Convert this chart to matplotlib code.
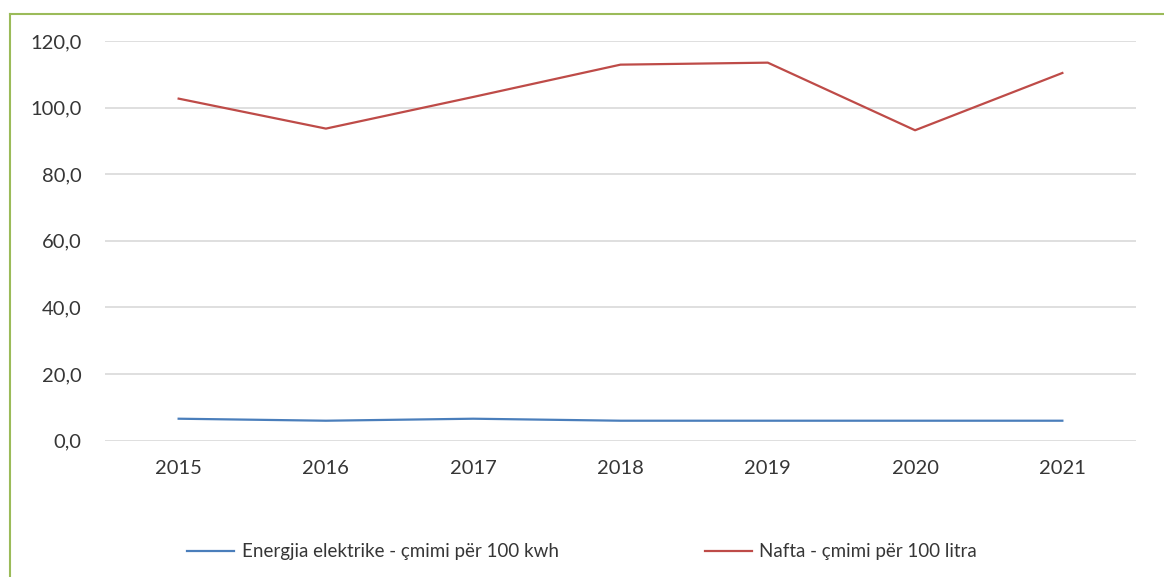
import matplotlib.pyplot as plt
from matplotlib.lines import Line2D
from matplotlib.ticker import FuncFormatter

plt.rcParams["font.family"] = ["Lato", "DejaVu Sans"]

years = ["2015", "2016", "2017", "2018", "2019", "2020", "2021"]
energji = [6.6, 6.0, 6.6, 6.0, 6.0, 6.0, 6.0]
nafta = [102.7, 93.7, 103.2, 112.9, 113.5, 93.2, 110.4]
labels = ["Energjia elektrike - çmimi për 100 kwh", "Nafta - çmimi për 100 litra"]

text_col = "#363636"

fig = plt.figure(figsize=(11.64, 5.77), dpi=100)
ax = fig.add_axes([105 / 1164, 1 - 440.7 / 577, (1136 - 105) / 1164, (440.7 - 41) / 577])

x = range(len(years))
ax.plot(x, energji, color="#4A7EBB", lw=1.6, label=labels[0])
ax.plot(x, nafta, color="#BE4B48", lw=1.6, label=labels[1])

ax.set_xlim(-0.5, len(years) - 0.5)
ax.set_ylim(0, 120)
ax.set_yticks(range(0, 121, 20))
ax.yaxis.set_major_formatter(FuncFormatter(lambda v, p: f"{v:.1f}".replace(".", ",")))
ax.set_xticks(list(x))
ax.set_xticklabels(years)
ax.grid(axis="y", color="#D9D9D9", lw=1.2)
ax.set_axisbelow(True)
for s in ax.spines.values():
    s.set_visible(False)
ax.tick_params(length=0, labelsize=14.5, labelcolor=text_col)
ax.tick_params(axis="y", pad=17)
ax.tick_params(axis="x", pad=14)

fig.legend(loc="center", bbox_to_anchor=(0.5, 1 - 552 / 577), ncol=2, frameon=False,
           fontsize=13.5, labelcolor=text_col, handlelength=2.5, columnspacing=7.8,
           handletextpad=0.4)

# green frame (only left and top edges visible)
border = "#9BBB59"
fig.add_artist(Line2D([10 / 1164, 10 / 1164], [0, 1 - 14 / 577], color=border, lw=1.5,
                      transform=fig.transFigure))
fig.add_artist(Line2D([10 / 1164, 1], [1 - 14 / 577, 1 - 14 / 577], color=border, lw=1.5,
                      transform=fig.transFigure))

fig.savefig("out.png", dpi=100)
